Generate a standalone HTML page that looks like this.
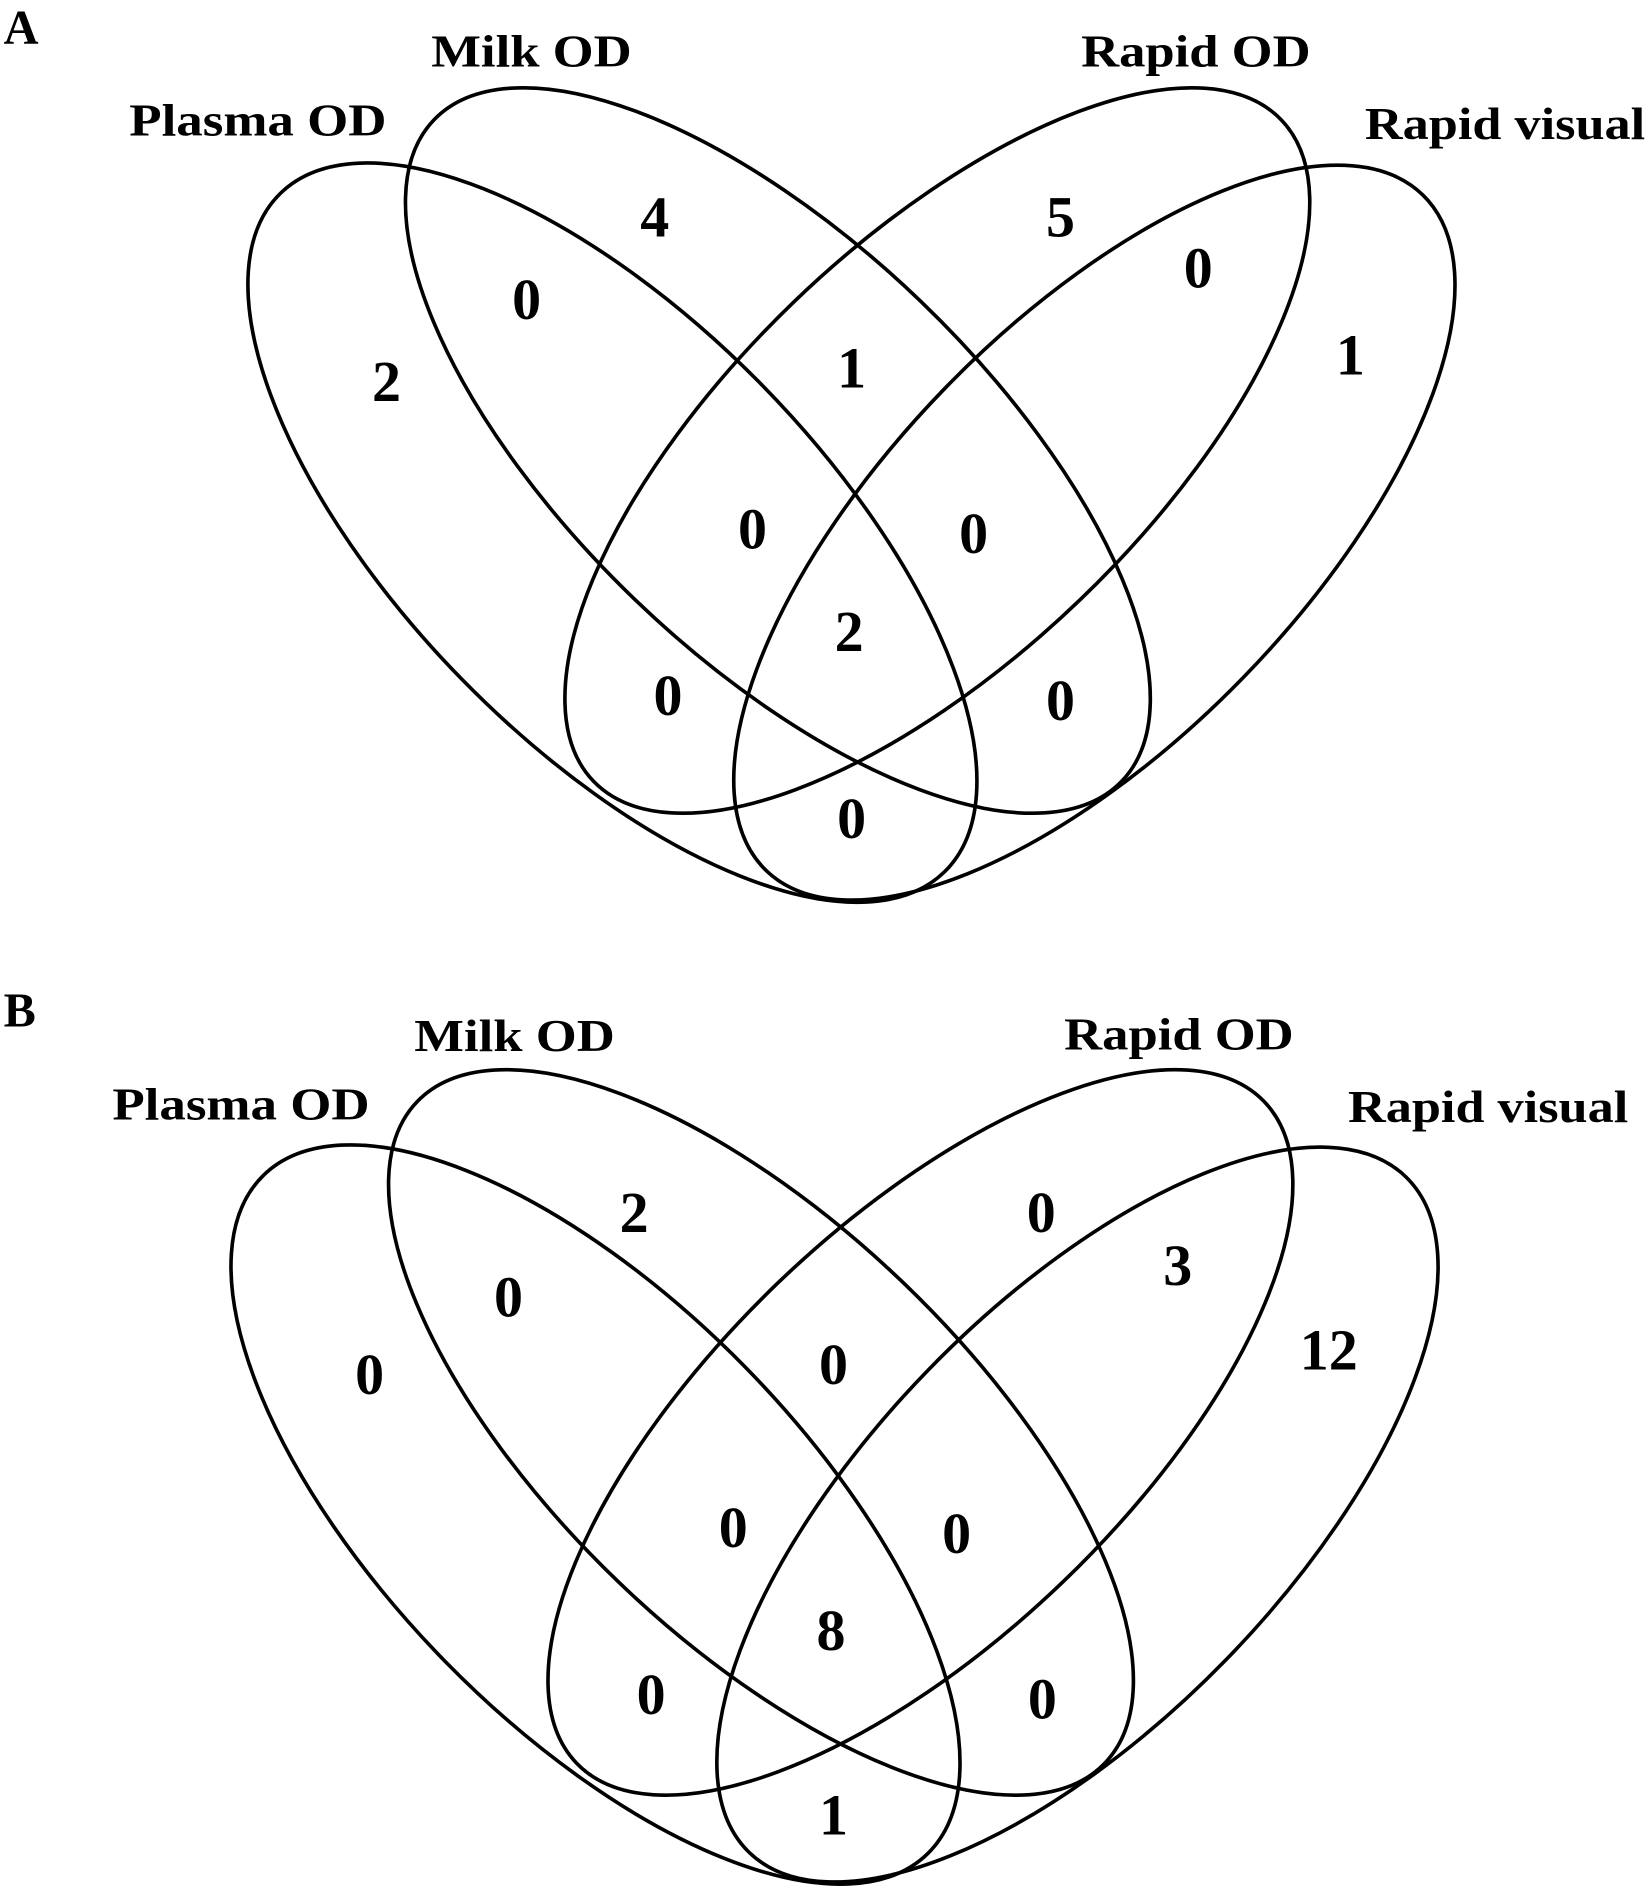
<!DOCTYPE html>
<html><head><meta charset="utf-8"><style>html,body{margin:0;padding:0;background:#fff;overflow:hidden;width:1650px;height:1895px}svg{display:block}</style></head>
<body>
<svg width="1650" height="1895" viewBox="0 0 1366 1569" preserveAspectRatio="none" xmlns="http://www.w3.org/2000/svg">
<defs>
<g id="venn" fill="none" stroke="#000" stroke-width="3">
<ellipse cx="507" cy="441" rx="393" ry="174" transform="rotate(45.6 507 441)"/>
<ellipse cx="644" cy="373" rx="395" ry="171" transform="rotate(43.9 644 373)"/>
<ellipse cx="776" cy="373" rx="395" ry="171" transform="rotate(-43.9 776 373)"/>
<ellipse cx="906" cy="441" rx="390" ry="172" transform="rotate(-45.8 906 441)"/>
</g>
</defs>
<g font-family="'Liberation Serif', 'Times New Roman', Times, serif" font-weight="bold" fill="#000">
<use href="#venn"/>
<text x="3" y="36" font-size="40">A</text>
<text x="357" y="55" font-size="38" textLength="166" lengthAdjust="spacingAndGlyphs">Milk OD</text>
<text x="107" y="112" font-size="38" textLength="213" lengthAdjust="spacingAndGlyphs">Plasma OD</text>
<text x="895" y="55" font-size="38" textLength="190" lengthAdjust="spacingAndGlyphs">Rapid OD</text>
<text x="1130" y="115" font-size="38" textLength="232" lengthAdjust="spacingAndGlyphs">Rapid visual</text>
<g font-size="48" text-anchor="middle">
<text x="542" y="196">4</text><text x="436" y="264">0</text><text x="320" y="332">2</text>
<text x="878" y="196">5</text><text x="992" y="238">0</text><text x="1118" y="310">1</text>
<text x="705" y="321">1</text><text x="623" y="454">0</text><text x="806" y="458">0</text>
<text x="703" y="539">2</text><text x="553" y="592">0</text><text x="878" y="596">0</text>
<text x="705" y="694">0</text>
</g>
<g transform="translate(-14,813)"><use href="#venn"/></g>
<text x="3" y="850" font-size="40">B</text>
<text x="343" y="870" font-size="38" textLength="166" lengthAdjust="spacingAndGlyphs">Milk OD</text>
<text x="93" y="927" font-size="38" textLength="213" lengthAdjust="spacingAndGlyphs">Plasma OD</text>
<text x="881" y="869" font-size="38" textLength="190" lengthAdjust="spacingAndGlyphs">Rapid OD</text>
<text x="1116" y="929" font-size="38" textLength="232" lengthAdjust="spacingAndGlyphs">Rapid visual</text>
<g font-size="48" text-anchor="middle">
<text x="525" y="1020">2</text><text x="421" y="1090">0</text><text x="306" y="1154">0</text>
<text x="862" y="1020">0</text><text x="975" y="1064">3</text><text x="1100" y="1134">12</text>
<text x="690" y="1146">0</text><text x="607" y="1281">0</text><text x="792" y="1286">0</text>
<text x="688" y="1366">8</text><text x="539" y="1419">0</text><text x="863" y="1423">0</text>
<text x="690" y="1519">1</text>
</g>
</g>
</svg>
</body></html>
